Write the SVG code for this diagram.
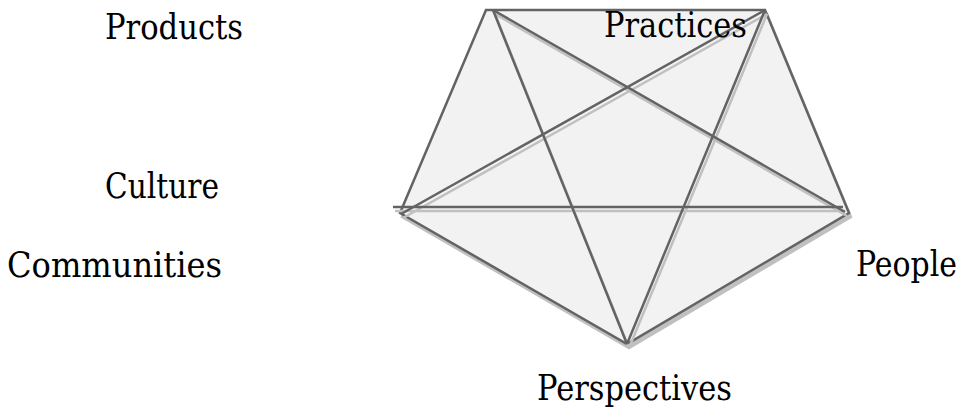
<svg xmlns="http://www.w3.org/2000/svg" width="969" height="409" viewBox="0 0 969 409">
<style>
text{font-family:'DejaVu Serif','Liberation Serif',serif;font-size:36px;fill:#000}
.ln{stroke:#636363;stroke-width:2.5;fill:none;stroke-linecap:butt}
.sh{stroke:#c0c0c0;stroke-width:2.5;fill:none}
.pg{fill:#f2f2f2;stroke:#636363;stroke-width:2.5;stroke-linejoin:miter}
.pgs{fill:#c0c0c0;stroke:#c0c0c0;stroke-width:2.5}
</style>
<rect width="969" height="409" fill="#fff"/>
<g id="pentagon">
<polygon class="pgs" transform="translate(2,4)" points="486,10 765,10 849,213 627,344 400,213"/>
<polygon class="pg" points="486,10 765,10 849,213 627,344 400,213"/>
</g>
<g id="connectors">
<g class="sh" transform="translate(2,4)">
<line x1="493" y1="10" x2="845" y2="212"/>
<line x1="493" y1="10" x2="627" y2="344"/>
<line x1="765" y1="10" x2="401" y2="214"/>
<line x1="765" y1="10" x2="627" y2="344"/>
<line x1="393" y1="207" x2="843" y2="207"/>
</g>
<g class="ln">
<line x1="493" y1="10" x2="845" y2="212"/>
<line x1="493" y1="10" x2="627" y2="344"/>
<line x1="765" y1="10" x2="401" y2="214"/>
<line x1="765" y1="10" x2="627" y2="344"/>
<line x1="393" y1="207" x2="843" y2="207"/>
</g>
</g>
<g id="products"><text x="105" y="39" textLength="138" lengthAdjust="spacingAndGlyphs">Products</text></g>
<g id="practices"><text x="604" y="37" textLength="143" lengthAdjust="spacingAndGlyphs">Practices</text></g>
<g id="culture"><text x="105" y="198" textLength="114" lengthAdjust="spacingAndGlyphs">Culture</text></g>
<g id="communities"><text x="7" y="277" textLength="215" lengthAdjust="spacingAndGlyphs">Communities</text></g>
<g id="people"><text x="957" y="276" text-anchor="end" textLength="101" lengthAdjust="spacingAndGlyphs">People</text></g>
<g id="perspectives"><text x="537" y="400" textLength="195" lengthAdjust="spacingAndGlyphs">Perspectives</text></g>
</svg>
